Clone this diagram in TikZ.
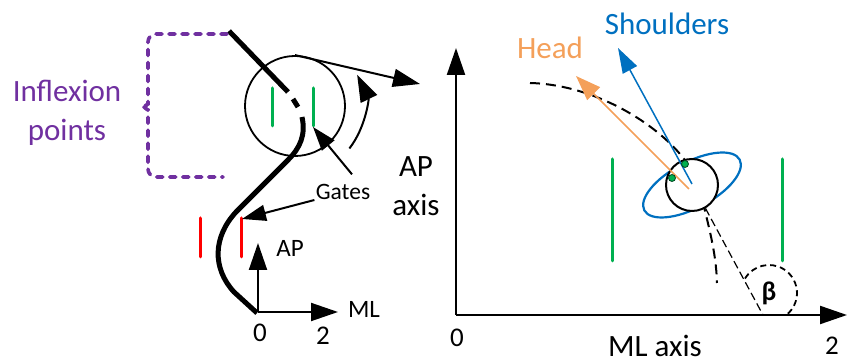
\documentclass[tikz,border=0pt]{standalone}
\usepackage{fontspec}
\setmainfont{Carlito}
\usetikzlibrary{arrows.meta,calc}
\definecolor{Ink}{HTML}{000000}
\definecolor{GateGreen}{HTML}{00B050}
\definecolor{GateRed}{HTML}{FF0000}
\definecolor{InflexPurple}{HTML}{7030A0}
\definecolor{ShoulderBlue}{HTML}{0070C0}
\definecolor{HeadOrange}{HTML}{F4A05A}
\newcommand{\sizept}[2]{\fontsize{#1pt}{#2pt}\selectfont}

\begin{document}
\begin{tikzpicture}[x=0.5pt, y=-0.5pt,
    bigtip/.style={line width=1pt,-{Triangle[length=13.5pt,width=9pt]}},
    gatetip/.style={line width=1pt,-{Triangle[length=12pt,width=8pt]}},
    gatebar/.style={line width=1.5pt,line cap=round},
    walk/.style={line width=2.5pt,Ink},
    lbl/.style={inner sep=0pt,anchor=base,font=\sizept{12.5}{15}},
    big/.style={inner sep=0pt,anchor=base,font=\sizept{15.5}{19.5}}]
    \useasboundingbox (0,0) rectangle (847,362);

    % left: walking path with the zoomed gate
    \node[circle,draw=Ink,line width=0.9pt,minimum size=50pt,inner sep=0pt] (lens) at (295,106) {};
    \draw[GateGreen,gatebar] (272,88) -- (272,126);
    \draw[GateGreen,gatebar] (313,88) -- (313,126);
    \coordinate (gA) at (313,127);
    \draw[GateRed,gatebar] (200,218) -- (200,257);
    \draw[GateRed,gatebar] (241,218) -- (241,257);
    \coordinate (rA) at (242,219);

    \draw[walk] (229,31) -- (288,92);
    \draw[walk] (293,99) -- (298,107);
    \draw[walk] (302,117) .. controls (306,135) and (300,148) .. (288,160) -- (236,212)
        .. controls (213,237) and (212,268) .. (234,292) -- (257,313);

    \draw[InflexPurple,line width=1.8pt,line cap=round,dash pattern=on 3pt off 3.5pt,rounded corners=4pt]
        (227,34) -| (148,96) .. controls (148,104) and (143,107) .. (137,107)
        .. controls (143,107) and (148,110) .. (148,118) |- (223,177);
    \node[big,InflexPurple,anchor=center,align=center] (inflex) at (67,113) {Inflexion\\points};

    \coordinate (pan) at (420,84);
    \draw[bigtip] (lens.north) -- (pan);
    \draw[bigtip] ($(lens.center)+(38:69)$) arc[start angle=38,end angle=-26,radius=70];

    \node[lbl,font=\sizept{11.75}{14}] (gates) at (343,200) {Gates};
    \draw[gatetip] ($(gates.north)+(9,-10)$) -- (gA);
    \draw[gatetip] ($(gates.base west)+(-1,0)$) -- (rA);

    \coordinate (o1) at (258,312);
    \draw[bigtip] (o1) -- (258,243);
    \draw[bigtip] (o1) -- (338,312);
    \node[lbl] (ap1) at (290,257) {AP};
    \node[lbl] (ml1) at (364,318) {ML};
    \node[lbl,font=\sizept{13.5}{16}] (zero1) at (260,342) {0};
    \node[lbl,font=\sizept{13.5}{16}] (two1) at (323,345) {2};

    % right: body in the corridor
    \coordinate (o2) at (456,315);
    \draw[bigtip,line width=1.1pt] (o2) -- (456,48);
    \draw[bigtip,line width=1.1pt] (o2) -- (847,315);
    \node[big,anchor=center,align=center] (apaxis) at (416,186) {AP\\axis};
    \node[big] (mlaxis) at (655,357) {ML axis};
    \node[lbl,font=\sizept{13.5}{16}] (zero2) at (457,347) {0};
    \node[lbl,font=\sizept{13.5}{16}] (two2) at (832,355) {2};

    \draw[GateGreen,gatebar] (612,159) -- (612,261);
    \draw[GateGreen,gatebar] (782,159) -- (782,261);

    \draw[Ink,line width=1pt,dash pattern=on 5pt off 3pt] (530,83) .. controls (610,85) and (690,145) .. (700,190)
        .. controls (708,225) and (716,250) .. (717,283);
    \draw[ShoulderBlue,line width=1.1pt,rotate around={28:(692,185)}] (692,185) ellipse[x radius=54,y radius=23];
    \node[circle,draw=Ink,fill=white,line width=1pt,minimum size=26pt,inner sep=0pt] (body) at (692,185) {};

    \node[inner sep=0pt,font=\bfseries\sizept{13.5}{16}] (beta) at (769,293) {β};
    \coordinate (foot) at (763,315);
    \draw[Ink,line width=0.6pt,dash pattern=on 4pt off 2pt] (body.-60) -- (foot);
    \draw[Ink,line width=0.9pt,dash pattern=on 3pt off 2pt] ($(beta.center)+(-149:28)$) arc[start angle=-149,end angle=50,radius=28];

    \draw[HeadOrange,line width=0.75pt,-{Triangle[length=12.5pt,width=9pt]}] (689,189) -- (576,76);
    \draw[ShoulderBlue,line width=0.75pt,-{Triangle[length=12.5pt,width=8pt]}] (692,184) -- (618,48);
    \fill[GateGreen,draw=black!60!GateGreen,line width=0.4pt] (685,164) circle[radius=3.5];
    \fill[GateGreen,draw=black!60!GateGreen,line width=0.4pt] (672,178) circle[radius=3.5];
    \node[big,ShoulderBlue] (shoulders) at (667,35) {Shoulders};
    \node[big,HeadOrange] (head) at (550,59) {Head};
\end{tikzpicture}
\end{document}
